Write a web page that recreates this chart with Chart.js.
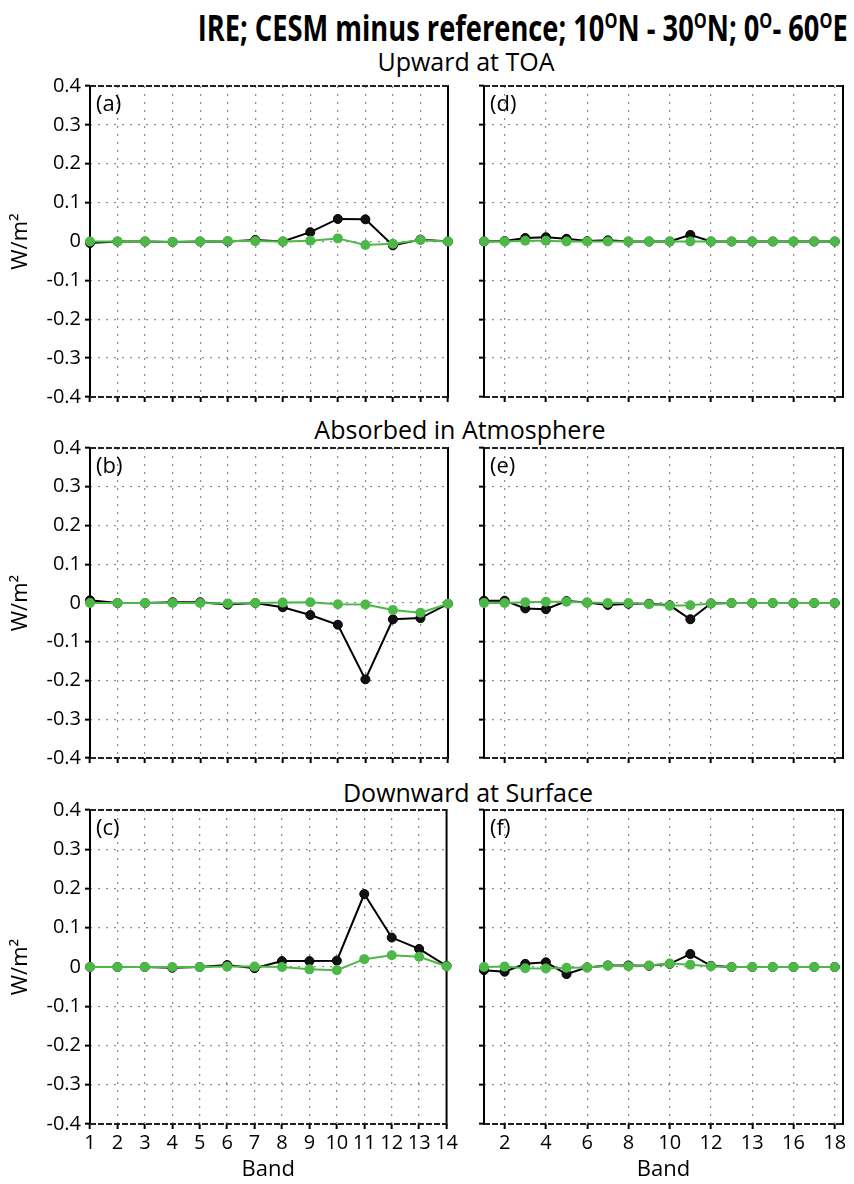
<!DOCTYPE html>
<html><head><meta charset="utf-8">
<script src="https://cdn.jsdelivr.net/npm/chart.js@4.4.0/dist/chart.umd.min.js"></script>
<style>
html,body{margin:0;padding:0;background:#fff;}
body{width:854px;height:1184px;position:relative;overflow:hidden;font-family:'Open Sans',sans-serif;color:#000;}
canvas{position:absolute;}
.t{position:absolute;white-space:nowrap;line-height:1;}
#title{font-weight:bold;font-size:35px;right:6px;top:10px;transform-origin:right center;}
#title sup{font-size:60%;vertical-align:0.6em;line-height:0;}
.sub{font-size:25px;transform:translateX(-50%);}
</style></head><body>
<div id="title" class="t">IRE; CESM minus reference; 10<sup>O</sup>N - 30<sup>O</sup>N; 0<sup>O</sup>- 60<sup>O</sup>E</div>
<div class="t sub" style="left:466px;top:49px;">Upward at TOA</div>
<div class="t sub" style="left:460px;top:417px;">Absorbed in Atmosphere</div>
<div class="t sub" style="left:468px;top:780px;">Downward at Surface</div>
<canvas id="ca"></canvas><canvas id="cd"></canvas>
<canvas id="cb"></canvas><canvas id="ce"></canvas>
<canvas id="cc"></canvas><canvas id="cf"></canvas>
<script>
// ---------- data ----------
const bandsLeft = [1,2,3,4,5,6,7,8,9,10,11,12,13,14];
const bandsRight = [1,2,3,4,5,6,7,8,9,10,11,12,13,14,15,16,17,18];
const xTicksLeft = [1,2,3,4,5,6,7,8,9,10,11,12,13,14];
const xTickLabelsLeft = ['1','2','3','4','5','6','7','8','9','10','11','12','13','14'];
const xTicksRight = [2,4,6,8,10,12,14,16,18];
const xTickLabelsRight = ['2','4','6','8','10','12','13','16','18'];
const yTicks = [-0.4,-0.3,-0.2,-0.1,0,0.1,0.2,0.3,0.4];
const yTickLabels = ['-0.4','-0.3','-0.2','-0.1','0','0.1','0.2','0.3','0.4'];

const aBlack = [-0.004,0,0,-0.001,0,0,0.004,0,0.024,0.058,0.057,-0.010,0.005,0];
const aGreen = [0,0,0,-0.001,0,0.001,0.001,0,0.002,0.008,-0.009,-0.006,0.004,0];
const bBlack = [0.007,0,0,0.002,0.002,-0.004,0,-0.011,-0.031,-0.056,-0.197,-0.042,-0.039,-0.002];
const bGreen = [0,0,0,0,0,-0.001,0,0.001,0.002,-0.003,-0.004,-0.018,-0.025,-0.002];
const cBlack = [0,0,0,-0.002,0,0.005,-0.003,0.015,0.015,0.016,0.186,0.075,0.046,0.003];
const cGreen = [0,0,0,0,0,0.001,0.001,0,-0.006,-0.008,0.020,0.030,0.026,0.002];
const dBlack = [0,0.001,0.009,0.011,0.007,0.001,0.003,0,0,0,0.017,0,0,0,0,0,0,0];
const dGreen = [0,0,0.002,0.002,0,0,0,0,0,0,0,0,0,0,0,0,0,0];
const eBlack = [0.006,0.006,-0.014,-0.016,0.005,0.001,-0.005,-0.002,-0.002,-0.006,-0.042,-0.001,0,0,0,0,0,0];
const eGreen = [0,0,0.002,0.003,0.003,0.001,0,0,-0.003,-0.007,-0.006,-0.001,0,0,0,0,0,0];
const fBlack = [-0.008,-0.012,0.008,0.012,-0.018,-0.001,0.004,0.004,0.003,0.008,0.033,0.003,0,0,0,0,0,0];
const fGreen = [0,0.001,-0.003,-0.004,-0.002,-0.001,0.003,0.002,0.004,0.009,0.006,0.002,0,0,0,0,0,0];

// ---------- styles ----------
const BLACK = '#000000';
const GREEN = '#4db848';
const FONT = "'Open Sans', sans-serif";
Chart.defaults.font.family = FONT;
Chart.defaults.color = '#000';

(function(){
  const t = document.getElementById('title');
  const w = t.getBoundingClientRect().width;
  t.style.transform = 'scaleX(' + (650 / w) + ')';
})();

const framePlugin = {
  id: 'frame',
  beforeDatasetsDraw(chart) {
    const {ctx, chartArea: {left, right, top, bottom}} = chart;
    ctx.save();
    ctx.strokeStyle = '#000'; ctx.lineWidth = 2;
    ctx.beginPath();
    ctx.moveTo(left, top - 1); ctx.lineTo(left, bottom + 1);
    ctx.moveTo(right, top - 1); ctx.lineTo(right, bottom + 1);
    ctx.stroke();
    ctx.strokeStyle = '#222'; ctx.setLineDash([6, 2]);
    ctx.beginPath();
    ctx.moveTo(left, top); ctx.lineTo(right, top);
    ctx.moveTo(left, bottom); ctx.lineTo(right, bottom);
    ctx.stroke();
    ctx.restore();
  },
  afterDraw(chart, args, opts) {
    const {ctx, chartArea: {left, top}} = chart;
    ctx.save();
    ctx.font = '22px ' + FONT; ctx.fillStyle = '#000'; ctx.textBaseline = 'middle';
    ctx.fillText(opts.label, left + 6, top + 19);
    ctx.restore();
  }
};

function makePanel(id, o) {
  const cv = document.getElementById(id);
  cv.width = o.w; cv.height = o.h;
  cv.style.left = o.x + 'px'; cv.style.top = o.y + 'px';
  const bands = o.right ? bandsRight : bandsLeft;
  const xt = o.right ? xTicksRight : xTicksLeft;
  const xl = o.right ? xTickLabelsRight : xTickLabelsLeft;
  const xmin = 1, xmax = o.right ? 18.4 : 14;
  const gridCol = (lo, hi) => (c) => {
    const v = c.tick ? c.tick.value : null;
    if (v === null) return 'rgba(0,0,0,0)';
    if (Math.abs(v - lo) < 1e-6 || Math.abs(v - hi) < 1e-6) return 'rgba(0,0,0,0)';
    return '#8f8f8f';
  };
  new Chart(cv, {
    type: 'line',
    data: {
      datasets: [
        {data: bands.map((b, i) => ({x: b, y: o.green[i]})), borderColor: GREEN, backgroundColor: GREEN,
         pointBackgroundColor: GREEN, pointBorderColor: GREEN, borderWidth: 2, pointRadius: 5, pointBorderWidth: 0, clip: false},
        {data: bands.map((b, i) => ({x: b, y: o.black[i]})), borderColor: BLACK, backgroundColor: BLACK,
         pointBackgroundColor: '#111', pointBorderColor: BLACK, borderWidth: 2, pointRadius: 4.5, pointBorderWidth: 1, clip: false}
      ]
    },
    options: {
      responsive: false, animation: false, devicePixelRatio: 1,
      layout: {padding: {top: 16, bottom: 0, left: 0, right: o.padR}},
      plugins: {legend: {display: false}, tooltip: {enabled: false}, frame: {label: o.label}},
      elements: {line: {tension: 0}},
      scales: {
        x: {
          type: 'linear', min: xmin, max: xmax,
          afterBuildTicks: (s) => { s.ticks = xt.map(v => ({value: v})); },
          afterFit: (s) => { s.height = o.xh; },
          ticks: {display: o.bottom, autoSkip: false, maxRotation: 0, padding: 2,
                  font: {size: 20}, callback: (v, i) => xl[i]},
          grid: {color: gridCol(xmin, xmax), lineWidth: 1.3, tickLength: 5, tickColor: '#000', tickWidth: 2},
          border: {display: false, dash: [2, 6]},
          title: {display: o.bottom, text: 'Band', font: {size: 22}, padding: {top: 0, bottom: 1}}
        },
        y: {
          type: 'linear', min: -0.4, max: 0.4,
          afterBuildTicks: (s) => { s.ticks = yTicks.map(v => ({value: v})); },
          afterFit: (s) => { s.width = o.yw; },
          ticks: {padding: 4, font: {size: 20}, callback: (v, i) => o.right ? '' : yTickLabels[i]},
          grid: {color: gridCol(-0.4, 0.4), lineWidth: 1.3, tickLength: 5, tickColor: '#000', tickWidth: 2},
          border: {display: false, dash: [2, 6]},
          title: {display: !o.right, text: 'W/m²', font: {size: 22}, padding: {top: 8, bottom: 0}}
        }
      }
    },
    plugins: [framePlugin]
  });
}

const rows = [
  {y: 70, h: 343, xh: 12, bottom: false},
  {y: 432, h: 342, xh: 12, bottom: false},
  {y: 794, h: 390, xh: 60, bottom: true}
];
const L = {x: 0, w: 460, yw: 90, padR: 12, right: false};
const R = {x: 470, w: 384, yw: 14, padR: 11, right: true};
makePanel('ca', Object.assign({}, L, rows[0], {label: '(a)', black: aBlack, green: aGreen}));
makePanel('cd', Object.assign({}, R, rows[0], {label: '(d)', black: dBlack, green: dGreen}));
makePanel('cb', Object.assign({}, L, rows[1], {label: '(b)', black: bBlack, green: bGreen}));
makePanel('ce', Object.assign({}, R, rows[1], {label: '(e)', black: eBlack, green: eGreen}));
makePanel('cc', Object.assign({}, L, rows[2], {label: '(c)', black: cBlack, green: cGreen}));
makePanel('cf', Object.assign({}, R, rows[2], {label: '(f)', black: fBlack, green: fGreen}));
</script>
</body></html>
